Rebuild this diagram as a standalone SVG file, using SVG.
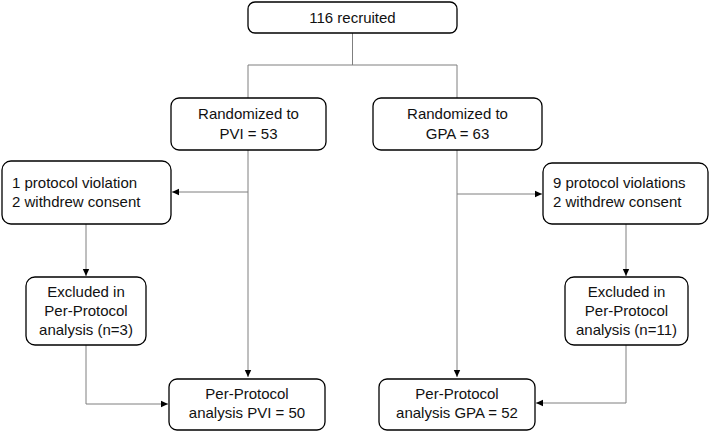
<svg xmlns="http://www.w3.org/2000/svg" width="711" height="432" viewBox="0 0 711 432">
<style>
.box{fill:#fff;stroke:#000;stroke-width:1.3}
.t{font-family:"Liberation Sans",Arial,sans-serif;font-size:15px;fill:#111}
.c{text-anchor:middle}
.ln{fill:none;stroke:#7f7f7f;stroke-width:1}
</style>
<defs>
<marker id="ah" markerWidth="8" markerHeight="8" refX="7" refY="4" orient="auto" markerUnits="userSpaceOnUse">
<path d="M0,0.8 L7,4 L0,7.2 Z" fill="#000"/>
</marker>
</defs>
<rect width="711" height="432" fill="#fff"/>
<g id="connectors">
<path class="ln" d="M352.5,33 V65 M248,65 H457 M248,65 V98 M457,65 V98"/>
<path class="ln" d="M248,150 V377" marker-end="url(#ah)"/>
<path class="ln" d="M248,192 H172" marker-end="url(#ah)"/>
<path class="ln" d="M457,150 V377" marker-end="url(#ah)"/>
<path class="ln" d="M457,194 H542" marker-end="url(#ah)"/>
<path class="ln" d="M86,224 V276" marker-end="url(#ah)"/>
<path class="ln" d="M626,224 V276" marker-end="url(#ah)"/>
<path class="ln" d="M86,345 V404 H168" marker-end="url(#ah)"/>
<path class="ln" d="M626,345 V403 H536" marker-end="url(#ah)"/>
</g>
<g id="recruited">
<rect class="box" x="248" y="2" width="209" height="31" rx="7"/>
<text class="t c" x="352.5" y="23">116 recruited</text>
</g>
<g id="rand-pvi">
<rect class="box" x="171" y="98" width="155" height="52" rx="8"/>
<text class="t c" x="248.5" y="119">Randomized to</text>
<text class="t c" x="248.5" y="139">PVI = 53</text>
</g>
<g id="rand-gpa">
<rect class="box" x="373" y="98" width="169" height="52" rx="8"/>
<text class="t c" x="457.5" y="119">Randomized to</text>
<text class="t c" x="457.5" y="139">GPA = 63</text>
</g>
<g id="viol-pvi">
<rect class="box" x="2" y="161" width="169" height="63" rx="9"/>
<text class="t" x="12" y="188">1 protocol violation</text>
<text class="t" x="12" y="207">2 withdrew consent</text>
</g>
<g id="viol-gpa">
<rect class="box" x="543" y="163" width="165" height="61" rx="9"/>
<text class="t" x="553" y="188">9 protocol violations</text>
<text class="t" x="553" y="207">2 withdrew consent</text>
</g>
<g id="excl-pvi">
<rect class="box" x="26" y="277" width="120" height="68" rx="9"/>
<text class="t c" x="86" y="297">Excluded in</text>
<text class="t c" x="86" y="316">Per-Protocol</text>
<text class="t c" x="86" y="335">analysis (n=3)</text>
</g>
<g id="excl-gpa">
<rect class="box" x="565" y="277" width="123" height="68" rx="9"/>
<text class="t c" x="626.5" y="297">Excluded in</text>
<text class="t c" x="626.5" y="316">Per-Protocol</text>
<text class="t c" x="626.5" y="335">analysis (n=11)</text>
</g>
<g id="pp-pvi">
<rect class="box" x="169" y="379" width="156" height="51" rx="8"/>
<text class="t c" x="247" y="399">Per-Protocol</text>
<text class="t c" x="247" y="418">analysis PVI = 50</text>
</g>
<g id="pp-gpa">
<rect class="box" x="379" y="379" width="156" height="51" rx="8"/>
<text class="t c" x="457" y="399">Per-Protocol</text>
<text class="t c" x="457" y="418">analysis GPA = 52</text>
</g>
</svg>
